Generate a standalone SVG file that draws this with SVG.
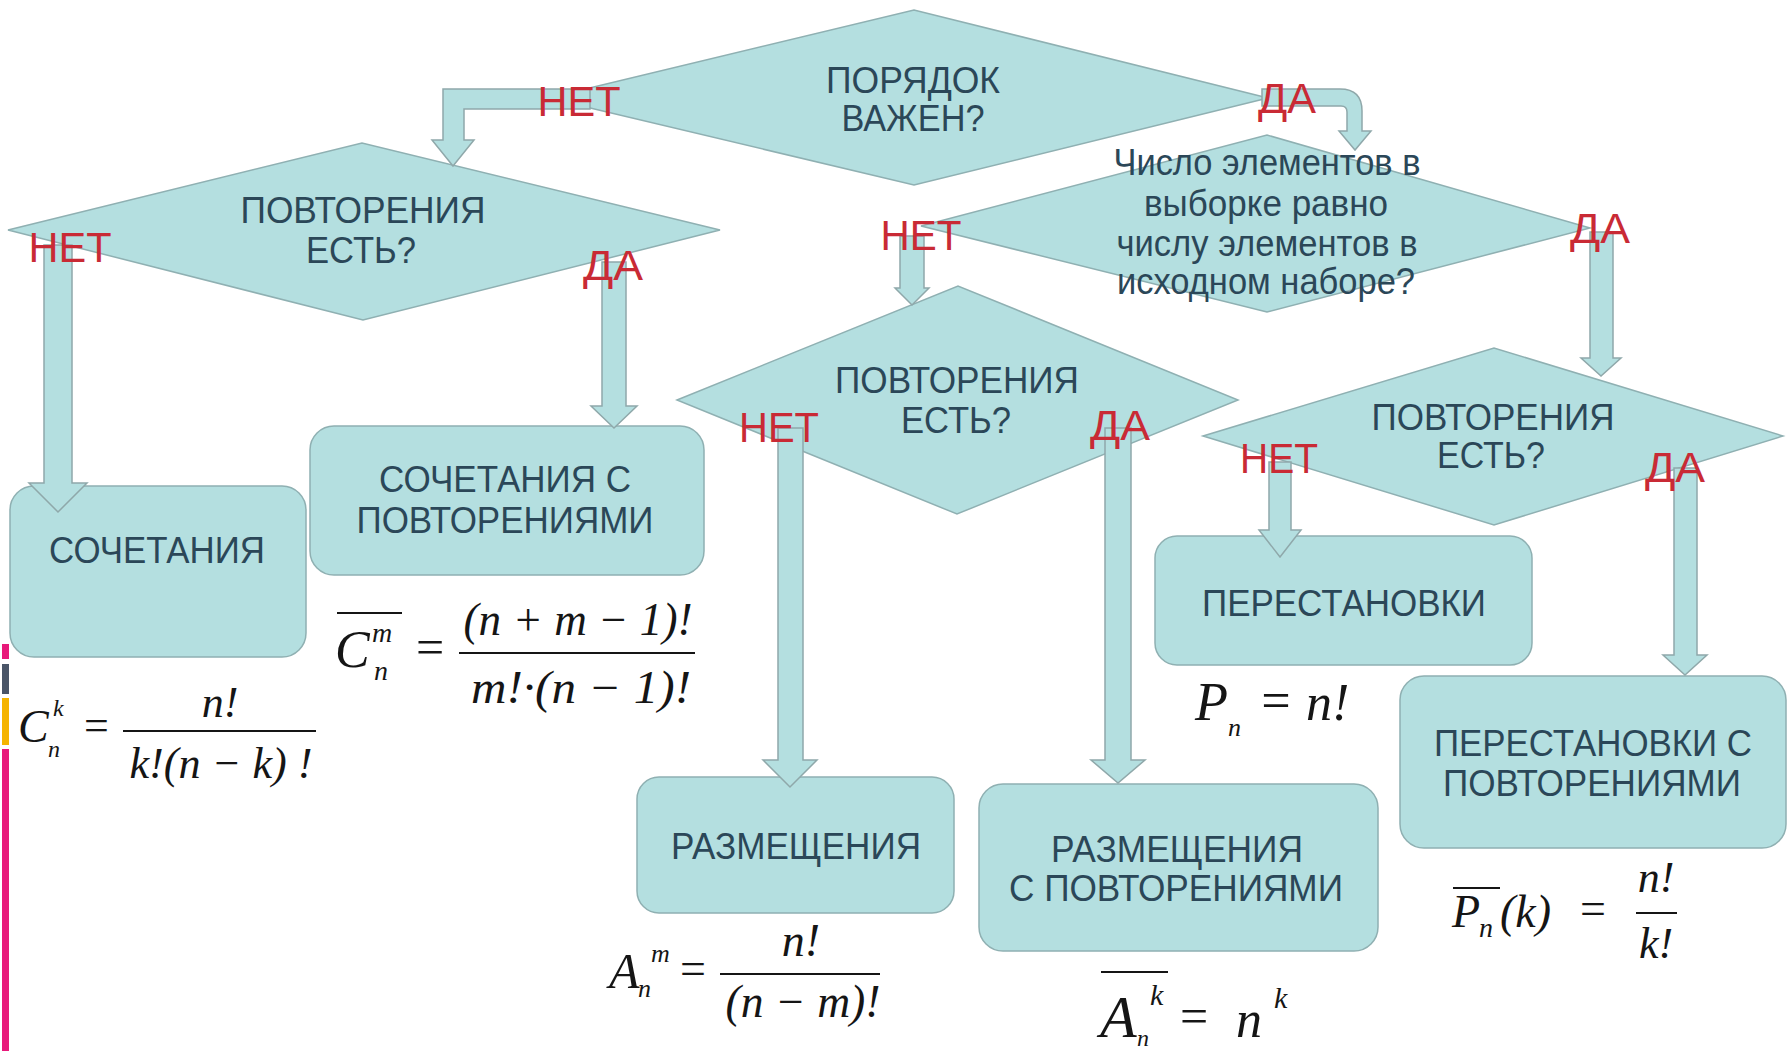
<svg xmlns="http://www.w3.org/2000/svg" width="1792" height="1051" viewBox="0 0 1792 1051">
<style>
.shape{fill:#b4dfe0;stroke:#8fb0b2;stroke-width:1.5}
.arrow{fill:#b4dfe0;stroke:#8fa8aa;stroke-width:1.5;stroke-linejoin:miter}
.t{font-family:"Liberation Sans",Arial,sans-serif;font-size:36px;fill:#2b4758;text-anchor:middle}
.lbl{font-family:"Liberation Sans",Arial,sans-serif;font-size:42px;fill:#c92a35;text-anchor:middle}
.f{font-family:"Liberation Serif","Times New Roman",serif;font-style:italic;fill:#151515}
.fu{font-family:"Liberation Serif","Times New Roman",serif;fill:#151515}
.bar{stroke:#151515;stroke-width:2}
</style>
<rect width="1792" height="1051" fill="#ffffff"/>

<g id="edge-bars">
<rect x="2" y="644" width="7" height="15" fill="#e8197a"/>
<rect x="2" y="664" width="7" height="30" fill="#4a5568"/>
<rect x="2" y="698" width="7" height="47" fill="#f5b400"/>
<rect x="2" y="749" width="7" height="302" fill="#e8197a"/>
</g>

<g id="d1-order">
<polygon class="shape" points="548,98 914,10 1268,98 914,185"/>
<text class="t" x="913" y="93" textLength="174" lengthAdjust="spacingAndGlyphs">ПОРЯДОК</text>
<text class="t" x="913" y="131" textLength="143" lengthAdjust="spacingAndGlyphs">ВАЖЕН?</text>
</g>
<g id="d2-repeat-left">
<polygon class="shape" points="8,230 362,143 720,230 363,320"/>
<text class="t" x="363" y="223" textLength="245" lengthAdjust="spacingAndGlyphs">ПОВТОРЕНИЯ</text>
<text class="t" x="361" y="263" textLength="110" lengthAdjust="spacingAndGlyphs">ЕСТЬ?</text>
</g>
<g id="d3-count">
<polygon class="shape" points="921,226 1267,135 1590,228 1267,312"/>
<text class="t" x="1267" y="175" font-size="34" textLength="307" lengthAdjust="spacingAndGlyphs">Число элементов в</text>
<text class="t" x="1266" y="216" font-size="34" textLength="244" lengthAdjust="spacingAndGlyphs">выборке равно</text>
<text class="t" x="1267" y="256" font-size="34" textLength="301" lengthAdjust="spacingAndGlyphs">числу элементов в</text>
<text class="t" x="1266" y="294" font-size="34" textLength="298" lengthAdjust="spacingAndGlyphs">исходном наборе?</text>
</g>
<g id="d4-repeat-mid">
<polygon class="shape" points="677,400 958,286 1238,400 957,514"/>
<text class="t" x="957" y="393" textLength="244" lengthAdjust="spacingAndGlyphs">ПОВТОРЕНИЯ</text>
<text class="t" x="956" y="433" textLength="110" lengthAdjust="spacingAndGlyphs">ЕСТЬ?</text>
</g>
<g id="d5-repeat-right">
<polygon class="shape" points="1203,436 1494,348 1783,436 1494,525"/>
<text class="t" x="1493" y="430" textLength="243" lengthAdjust="spacingAndGlyphs">ПОВТОРЕНИЯ</text>
<text class="t" x="1491" y="468" textLength="108" lengthAdjust="spacingAndGlyphs">ЕСТЬ?</text>
</g>

<g id="b1-combinations">
<rect class="shape" x="10" y="486" width="296" height="171" rx="24"/>
<text class="t" x="157" y="563" textLength="216" lengthAdjust="spacingAndGlyphs">СОЧЕТАНИЯ</text>
</g>
<g id="b2-combinations-rep">
<rect class="shape" x="310" y="426" width="394" height="149" rx="24"/>
<text class="t" x="505" y="492" textLength="252" lengthAdjust="spacingAndGlyphs">СОЧЕТАНИЯ С</text>
<text class="t" x="505" y="533" textLength="297" lengthAdjust="spacingAndGlyphs">ПОВТОРЕНИЯМИ</text>
</g>
<g id="b3-arrangements">
<rect class="shape" x="637" y="777" width="317" height="136" rx="22"/>
<text class="t" x="796" y="859" textLength="250" lengthAdjust="spacingAndGlyphs">РАЗМЕЩЕНИЯ</text>
</g>
<g id="b4-arrangements-rep">
<rect class="shape" x="979" y="784" width="399" height="167" rx="24"/>
<text class="t" x="1177" y="862" textLength="252" lengthAdjust="spacingAndGlyphs">РАЗМЕЩЕНИЯ</text>
<text class="t" x="1176" y="901" textLength="334" lengthAdjust="spacingAndGlyphs">С ПОВТОРЕНИЯМИ</text>
</g>
<g id="b5-permutations">
<rect class="shape" x="1155" y="536" width="377" height="129" rx="22"/>
<text class="t" x="1344" y="616" textLength="284" lengthAdjust="spacingAndGlyphs">ПЕРЕСТАНОВКИ</text>
</g>
<g id="b6-permutations-rep">
<rect class="shape" x="1400" y="676" width="386" height="172" rx="24"/>
<text class="t" x="1593" y="756" textLength="318" lengthAdjust="spacingAndGlyphs">ПЕРЕСТАНОВКИ С</text>
<text class="t" x="1592" y="796" textLength="298" lengthAdjust="spacingAndGlyphs">ПОВТОРЕНИЯМИ</text>
</g>

<g id="connectors">
<path class="arrow" d="M590,89 L443,89 L443,140 L432,140 L453,166 L474,140 L464,140 L464,109 L590,109 Z"/>
<path class="arrow" d="M1262,89 L1340,89 Q1362,89 1362,111 L1362,131 L1371,131 L1355,150 L1339,131 L1347,131 L1347,112 Q1347,106 1341,106 L1262,106 Z"/>
<path class="arrow" d="M44,245 L72,245 L72,483 L87,483 L58,512 L29,483 L44,483 Z"/>
<path class="arrow" d="M602,262 L626,262 L626,406 L637,406 L614,428 L591,406 L602,406 Z"/>
<path class="arrow" d="M900,236 L924,236 L924,288 L929,288 L912,305 L895,288 L900,288 Z"/>
<path class="arrow" d="M1590,232 L1613,232 L1613,358 L1621,358 L1601,376 L1581,358 L1590,358 Z"/>
<path class="arrow" d="M778,428 L803,428 L803,760 L817,760 L790,787 L763,760 L778,760 Z"/>
<path class="arrow" d="M1105,428 L1131,428 L1131,760 L1145,760 L1118,783 L1091,760 L1105,760 Z"/>
<path class="arrow" d="M1269,462 L1291,462 L1291,530 L1301,530 L1280,557 L1259,530 L1269,530 Z"/>
<path class="arrow" d="M1674,468 L1697,468 L1697,655 L1707,655 L1685,675 L1663,655 L1674,655 Z"/>
</g>

<g id="labels">
<text class="lbl" x="579" y="116" textLength="83" lengthAdjust="spacingAndGlyphs">НЕТ</text>
<text class="lbl" x="1287" y="113" textLength="58" lengthAdjust="spacingAndGlyphs">ДА</text>
<text class="lbl" x="70" y="262" textLength="83" lengthAdjust="spacingAndGlyphs">НЕТ</text>
<text class="lbl" x="613" y="280" textLength="60" lengthAdjust="spacingAndGlyphs">ДА</text>
<text class="lbl" x="921" y="250" textLength="81" lengthAdjust="spacingAndGlyphs">НЕТ</text>
<text class="lbl" x="1600" y="243" textLength="60" lengthAdjust="spacingAndGlyphs">ДА</text>
<text class="lbl" x="779" y="442" textLength="80" lengthAdjust="spacingAndGlyphs">НЕТ</text>
<text class="lbl" x="1120" y="440" textLength="60" lengthAdjust="spacingAndGlyphs">ДА</text>
<text class="lbl" x="1279" y="473" textLength="78" lengthAdjust="spacingAndGlyphs">НЕТ</text>
<text class="lbl" x="1675" y="482" textLength="60" lengthAdjust="spacingAndGlyphs">ДА</text>
</g>

<g id="formula-combinations">
<text class="f" x="18" y="742" font-size="46">C<tspan x="53" y="716" font-size="24">k</tspan><tspan x="48" y="757" font-size="24">n</tspan></text>
<text class="fu" x="84" y="740" font-size="44">=</text>
<line class="bar" x1="123" y1="731" x2="316" y2="731"/>
<text class="f" x="220" y="717" font-size="44" text-anchor="middle">n!</text>
<text class="f" x="221" y="778" font-size="44" text-anchor="middle" textLength="183" lengthAdjust="spacingAndGlyphs">k!(n − k) !</text>
</g>
<g id="formula-combinations-rep">
<line class="bar" x1="337" y1="613" x2="402" y2="613"/>
<text class="f" x="335" y="667" font-size="52">C<tspan x="372" y="642" font-size="28">m</tspan><tspan x="374" y="680" font-size="28">n</tspan></text>
<text class="fu" x="416" y="664" font-size="50">=</text>
<line class="bar" x1="459" y1="653" x2="695" y2="653"/>
<text class="f" x="578" y="635" font-size="46" text-anchor="middle" textLength="229" lengthAdjust="spacingAndGlyphs">(n + m − 1)!</text>
<text class="f" x="581" y="703" font-size="46" text-anchor="middle" textLength="220" lengthAdjust="spacingAndGlyphs">m!·(n − 1)!</text>
</g>
<g id="formula-arrangements">
<text class="f" x="609" y="988" font-size="50">A<tspan x="651" y="962" font-size="26">m</tspan><tspan x="638" y="997" font-size="26">n</tspan></text>
<text class="fu" x="680" y="984" font-size="46">=</text>
<line class="bar" x1="720" y1="974" x2="880" y2="974"/>
<text class="f" x="801" y="956" font-size="46" text-anchor="middle">n!</text>
<text class="f" x="803" y="1017" font-size="46" text-anchor="middle" textLength="155" lengthAdjust="spacingAndGlyphs">(n − m)!</text>
</g>
<g id="formula-permutations">
<text class="f" x="1195" y="720" font-size="54">P<tspan dy="16" font-size="26">n</tspan><tspan class="fu" x="1258" y="718" font-size="52">=</tspan><tspan x="1306" y="720" font-size="52">n!</tspan></text>
</g>
<g id="formula-permutations-rep">
<line class="bar" x1="1453" y1="888" x2="1500" y2="888"/>
<text class="f" x="1452" y="927" font-size="46">P<tspan x="1479" y="937" font-size="28">n</tspan><tspan class="fu" x="1500" y="927" font-size="46">(</tspan>k<tspan class="fu">)</tspan></text>
<text class="fu" x="1580" y="924" font-size="46">=</text>
<line class="bar" x1="1636" y1="913" x2="1677" y2="913"/>
<text class="f" x="1656" y="892" font-size="44" text-anchor="middle">n!</text>
<text class="f" x="1656" y="958" font-size="44" text-anchor="middle">k!</text>
</g>
<g id="formula-arrangements-rep">
<line class="bar" x1="1101" y1="972" x2="1168" y2="972"/>
<text class="f" x="1100" y="1037" font-size="60">A<tspan x="1150" y="1005" font-size="30">k</tspan><tspan x="1137" y="1046" font-size="24">n</tspan></text>
<text class="fu" x="1180" y="1033" font-size="50">=</text>
<text class="f" x="1236" y="1037" font-size="52">n<tspan x="1274" y="1008" font-size="30">k</tspan></text>
</g>
</svg>
